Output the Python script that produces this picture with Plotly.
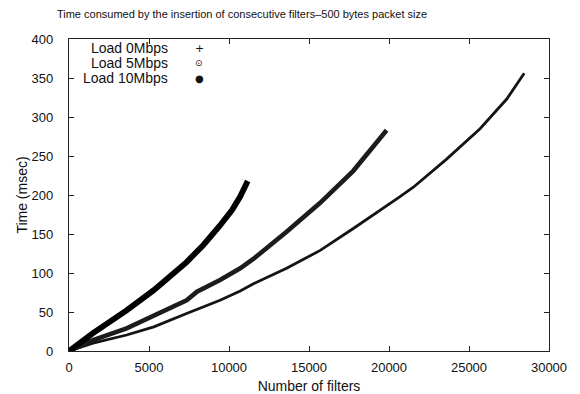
import plotly.graph_objects as go

# Data
filters_0 = [0, 1500, 3600, 5300, 7350, 9440, 10700, 11500, 13600, 15700, 17770, 19440, 20690, 21520, 23600, 25690, 27360, 28450]
time_0 = [0, 10, 20.5, 31, 48, 65, 77, 86, 106, 129, 157, 180, 198, 210, 246, 285, 323, 356]

filters_5 = [0, 1500, 3600, 5300, 7350, 8000, 9440, 10700, 11520, 13600, 15700, 17770, 19440, 19850]
time_5 = [0, 14, 29, 46, 65, 76, 91, 106, 118, 153, 190, 231, 271, 283]

filters_10 = [0, 1500, 3600, 5300, 7350, 8400, 9400, 10200, 10700, 11170]
time_10 = [0, 23, 52, 78, 114, 136, 160, 181, 198, 218]

series_names = ["Load 0Mbps", "Load 5Mbps", "Load 10Mbps"]
legend_glyphs = ["+", "⊙", "●"]
x_ticks = [0, 5000, 10000, 15000, 20000, 25000, 30000]
y_ticks = [0, 50, 100, 150, 200, 250, 300, 350, 400]

FONT = "Liberation Sans, Arial, Helvetica, sans-serif"
OFF = 8  # page body margin

fig = go.Figure()
fig.add_trace(go.Scatter(x=filters_0, y=time_0, mode="lines", name=series_names[0],
                         line=dict(color="#141414", width=2.8),
                         showlegend=False))
fig.add_trace(go.Scatter(x=filters_5, y=time_5, mode="lines", name=series_names[1],
                         line=dict(color="#1c1c1c", width=4.6),
                         showlegend=False))
fig.add_trace(go.Scatter(x=filters_10, y=time_10, mode="lines", name=series_names[2],
                         line=dict(color="#000000", width=5.8),
                         showlegend=False))

# Legend (gnuplot style: right-aligned label, symbol on the right)
rows_y = [0.971, 0.923, 0.875]
glyph_sizes = [11, 9, 10]
for name, glyph, yy, gs in zip(series_names, legend_glyphs, rows_y, glyph_sizes):
    fig.add_annotation(x=0.21, y=yy, xref="paper", yref="paper", text=name,
                       showarrow=False, xanchor="right", yanchor="middle",
                       font=dict(family=FONT, size=14, color="#111"))
    fig.add_annotation(x=0.271, y=yy, xref="paper", yref="paper", text=glyph,
                       showarrow=False, xanchor="center", yanchor="middle",
                       font=dict(family="DejaVu Sans", size=gs, color="#111"))

axis_common = dict(showline=True, linecolor="#222", linewidth=1.2, mirror="ticks",
                   ticks="inside", ticklen=5, tickcolor="#222", tickwidth=1,
                   showgrid=False, zeroline=False, automargin=False,
                   tickfont=dict(family=FONT, size=13, color="#111"))

fig.update_xaxes(range=[0, 30000], tickvals=x_ticks, ticktext=[str(v) for v in x_ticks],
                 ticklabelstandoff=4,
                 title=dict(text="Number of filters", font=dict(family=FONT, size=14, color="#111"), standoff=7),
                 **axis_common)
fig.update_yaxes(range=[0, 400], tickvals=y_ticks, ticktext=[str(v) for v in y_ticks],
                 ticklabelstandoff=12,
                 title=dict(text="Time (msec)", font=dict(family=FONT, size=14, color="#111"), standoff=0),
                 **axis_common)

fig.update_layout(
    width=580, height=394,
    margin=dict(l=69 - OFF, r=31 + OFF, t=39 - OFF, b=43 + OFF, autoexpand=False),
    paper_bgcolor="white", plot_bgcolor="white",
    title=dict(text="Time consumed by the insertion of consecutive filters–500 bytes packet size",
               x=(242 - OFF) / 580, xanchor="center", xref="container",
               y=1 - (14 - OFF) / 394, yanchor="middle", yref="container",
               font=dict(family=FONT, size=11, color="#111"), automargin=False),
)

fig.write_html("out.html")
